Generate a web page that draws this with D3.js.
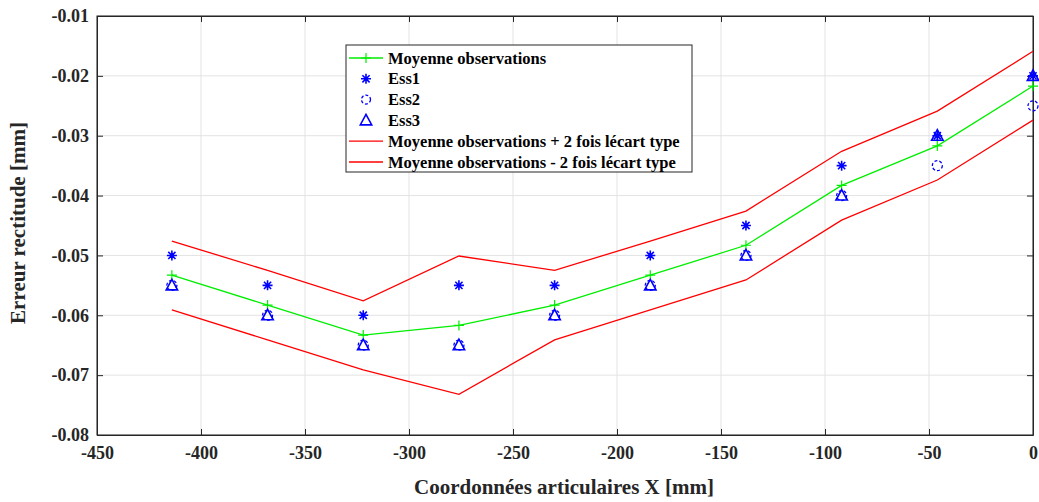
<!DOCTYPE html>
<html>
<head>
<meta charset="utf-8">
<script src="https://cdn.jsdelivr.net/npm/d3@7"></script>
<style>
    body { margin: 0; background: #fff; }
    svg text { font-family: "Liberation Serif", "Times New Roman", serif !important; font-weight: bold; fill: #262626; }
</style>
</head>
<body>
<svg id="chart" width="1039" height="502"></svg>
<script>

// positions along the joint axis (mm)
const xPos = [-414, -368, -322, -276, -230, -184, -138, -92, -46, 0];

const ess1 = [-0.050, -0.055, -0.060, -0.055, -0.055, -0.050, -0.045, -0.035, -0.030, -0.020];
const ess2 = [-0.055, -0.060, -0.065, -0.065, -0.060, -0.055, -0.050, -0.040, -0.035, -0.025];
const ess3 = [-0.055, -0.060, -0.065, -0.065, -0.060, -0.055, -0.050, -0.040, -0.030, -0.020];

const meanObs = [-0.0533, -0.0583, -0.0633, -0.0617, -0.0583, -0.0533, -0.0483, -0.0383, -0.0317, -0.0217];
const upperBand = [-0.0476, -0.0525, -0.0576, -0.0501, -0.0525, -0.0476, -0.0426, -0.0326, -0.0259, -0.0159];
const lowerBand = [-0.0591, -0.0641, -0.0691, -0.0732, -0.0641, -0.0591, -0.0541, -0.0441, -0.0374, -0.0274];

const xTicks = [-450, -400, -350, -300, -250, -200, -150, -100, -50, 0];
const yTicks = [-0.08, -0.07, -0.06, -0.05, -0.04, -0.03, -0.02, -0.01];

const legendLabels = [
    'Moyenne observations',
    'Ess1',
    'Ess2',
    'Ess3',
    'Moyenne observations + 2 fois lécart type',
    'Moyenne observations - 2 fois lécart type'
];

const svg = d3.select('#chart');
const m = {left: 97, right: 6, top: 16, bottom: 67};
const w = 1039 - m.left - m.right;
const h = 502 - m.top - m.bottom;

const x = d3.scaleLinear().domain([-450, 0]).range([0, w]);
const y = d3.scaleLinear().domain([-0.08, -0.01]).range([h, 0]);

const g = svg.append('g').attr('transform', `translate(${m.left},${m.top})`);

// grid
g.selectAll('.vgrid').data(xTicks).enter().append('line')
    .attr('x1', d => x(d)).attr('x2', d => x(d))
    .attr('y1', 0).attr('y2', h)
    .attr('stroke', '#e3e3e3').attr('stroke-width', 1);
g.selectAll('.hgrid').data(yTicks).enter().append('line')
    .attr('y1', d => y(d)).attr('y2', d => y(d))
    .attr('x1', 0).attr('x2', w)
    .attr('stroke', '#e3e3e3').attr('stroke-width', 1);

// axes (ticks inward, box on) - plain hyphen like matlab
const fmtX = d => String(d);
const fmtY = d => d3.format('.2f')(d).replace('\u2212', '-');
g.append('g').attr('transform', `translate(0,${h})`)
    .call(d3.axisBottom(x).tickValues(xTicks).tickFormat(fmtX).tickSize(-6).tickPadding(11).tickSizeOuter(0))
    .call(a => a.selectAll('text').style('font-size', '18px'));
g.append('g')
    .call(d3.axisLeft(y).tickValues(yTicks).tickFormat(fmtY).tickSize(-6).tickPadding(8).tickSizeOuter(0))
    .call(a => a.selectAll('text').style('font-size', '18px'));
g.append('g')
    .call(d3.axisTop(x).tickValues(xTicks).tickSize(-6).tickFormat('').tickSizeOuter(0));
g.append('g').attr('transform', `translate(${w},0)`)
    .call(d3.axisRight(y).tickValues(yTicks).tickSize(-6).tickFormat('').tickSizeOuter(0));
g.selectAll('.domain').attr('stroke', '#262626');
g.selectAll('.tick line').attr('stroke', '#262626');
g.append('rect').attr('width', w).attr('height', h)
    .attr('fill', 'none').attr('stroke', '#262626').attr('stroke-width', 1);

// lines
const line = d3.line().x((d, i) => x(xPos[i])).y(d => y(d));
g.append('path').datum(upperBand).attr('d', line)
    .attr('fill', 'none').attr('stroke', '#ff0000').attr('stroke-width', 1.3);
g.append('path').datum(lowerBand).attr('d', line)
    .attr('fill', 'none').attr('stroke', '#ff0000').attr('stroke-width', 1.3);
g.append('path').datum(meanObs).attr('d', line)
    .attr('fill', 'none').attr('stroke', '#00ee00').attr('stroke-width', 1.3);

// markers
function drawPlus (sel, color, s) {
    sel.append('path')
        .attr('d', `M${-s},0H${s}M0,${-s}V${s}`)
        .attr('stroke', color).attr('stroke-width', 1.2).attr('fill', 'none');
}
function drawStar (sel, color, s) {
    let d = `M${-s},0H${s}M0,${-s}V${s}`;
    const k = s * 0.72;
    d += `M${-k},${-k}L${k},${k}M${-k},${k}L${k},${-k}`;
    sel.append('path').attr('d', d)
        .attr('stroke', color).attr('stroke-width', 1.6).attr('fill', 'none');
}
function drawCircle (sel, color, r) {
    sel.append('circle').attr('r', r)
        .attr('stroke', color).attr('stroke-width', 1.3).attr('fill', 'none')
        .attr('stroke-dasharray', '3,2');
}
function drawTri (sel, color, s) {
    sel.append('path')
        .attr('d', `M0,${-s}L${s*0.95},${s*0.75}L${-s*0.95},${s*0.75}Z`)
        .attr('stroke', color).attr('stroke-width', 1.6).attr('fill', 'none');
}

meanObs.forEach((v, i) => {
    drawPlus(g.append('g').attr('transform', `translate(${x(xPos[i])},${y(v)})`), '#00ee00', 5);
});
ess1.forEach((v, i) => {
    drawStar(g.append('g').attr('transform', `translate(${x(xPos[i])},${y(v)})`), '#0000ff', 5);
});
ess2.forEach((v, i) => {
    drawCircle(g.append('g').attr('transform', `translate(${x(xPos[i])},${y(v)})`), '#0000ff', 5);
});
ess3.forEach((v, i) => {
    drawTri(g.append('g').attr('transform', `translate(${x(xPos[i])},${y(v)})`), '#0000ff', 6);
});

// axis titles
svg.append('text')
    .attr('x', 564).attr('y', 494)
    .attr('text-anchor', 'middle')
    .style('font-size', '21px')
    .text('Coordonnées articulaires X [mm]');
svg.append('text')
    .attr('transform', 'translate(25,223) rotate(-90)')
    .attr('text-anchor', 'middle')
    .style('font-size', '21px')
    .text('Erreur rectitude [mm]');

// legend
const lg = svg.append('g').attr('transform', 'translate(346,45)');
lg.append('rect').attr('width', 346).attr('height', 127)
    .attr('fill', '#fff').attr('stroke', '#262626').attr('stroke-width', 1);
legendLabels.forEach((t, i) => {
    const cy = 13 + i * 20.8;
    const row = lg.append('g').attr('transform', `translate(0,${cy})`);
    if (i === 0) {
        row.append('line').attr('x1', 3).attr('x2', 37).attr('stroke', '#00ee00').attr('stroke-width', 1.3);
        drawPlus(row.append('g').attr('transform', 'translate(20,0)'), '#00ee00', 5);
    } else if (i === 1) {
        drawStar(row.append('g').attr('transform', 'translate(20,0)'), '#0000ff', 5);
    } else if (i === 2) {
        drawCircle(row.append('g').attr('transform', 'translate(20,0)'), '#0000ff', 4.5);
    } else if (i === 3) {
        drawTri(row.append('g').attr('transform', 'translate(20,0)'), '#0000ff', 6);
    } else {
        row.append('line').attr('x1', 3).attr('x2', 37).attr('stroke', '#ff0000').attr('stroke-width', 1.3);
    }
    row.append('text').attr('x', 42).attr('y', 5.5)
        .style('font-size', '16.5px')
        .style('fill', '#000')
        .text(t);
});

</script>
</body>
</html>
